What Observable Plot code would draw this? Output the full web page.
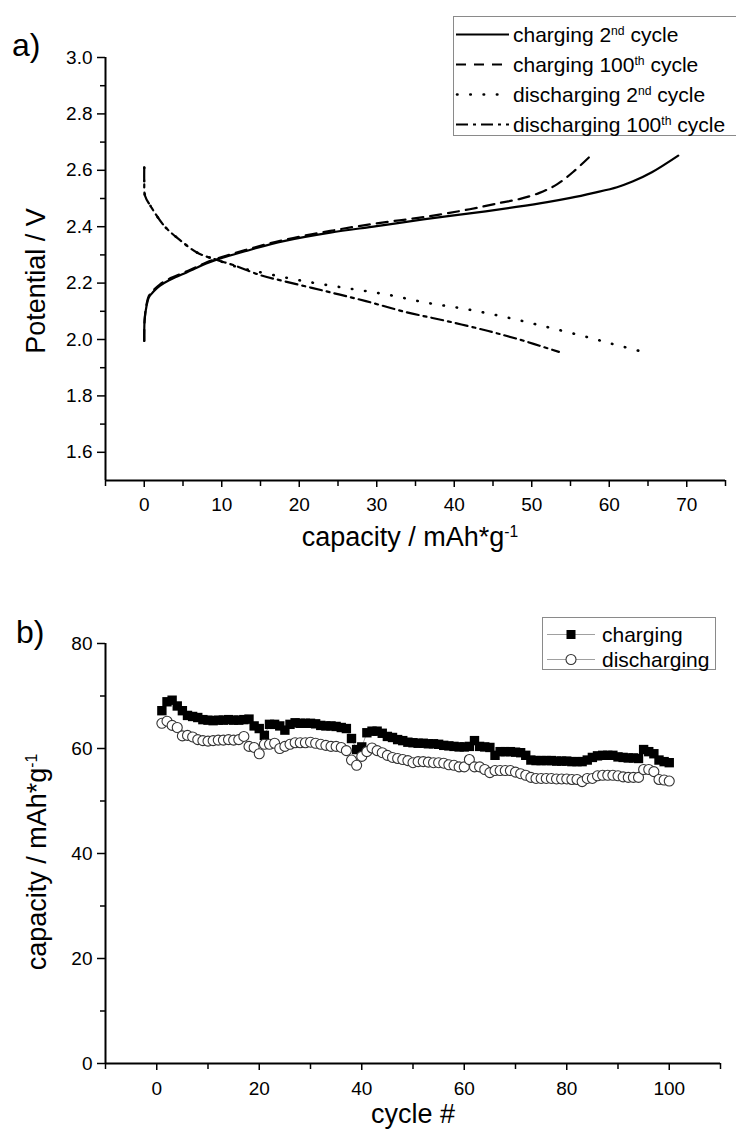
<!DOCTYPE html>
<html><head><meta charset="utf-8">
<script src="https://cdn.jsdelivr.net/npm/d3@7"></script>
<script src="https://cdn.jsdelivr.net/npm/@observablehq/plot@0.6"></script>
<style>
body{margin:0;background:#fff;}
#fig{position:relative;width:736px;height:1129px;overflow:hidden;font-family:"Liberation Sans",Arial,sans-serif;color:#000;background:#fff;}
.abs{position:absolute;white-space:nowrap;line-height:1;}
.panel{position:absolute;left:0;}
.leg{position:absolute;border:1px solid #8a8a8a;background:#fff;box-sizing:border-box;}
.row{position:absolute;left:0;display:flex;align-items:center;transform:translateY(-50%);white-space:nowrap;line-height:1;}
.row svg{display:block;}
sup{font-size:0.58em;vertical-align:0;position:relative;top:-0.6em;line-height:0;}
</style></head><body><div id="fig"></div>
<script>
const FONT = '"Liberation Sans", Arial, sans-serif';

// ---------- Panel a: potential vs capacity ----------
const capC2  = [0, 0.05, 0.3, 0.6, 1.2, 2, 3.2, 5, 6.3, 8, 10, 13, 18, 24, 30, 36, 42, 48, 52, 55, 58, 61, 63, 65.5, 68.9];
const vC2    = [1.995, 2.07, 2.12, 2.15, 2.17, 2.19, 2.21, 2.232, 2.248, 2.27, 2.289, 2.313, 2.349, 2.379, 2.402, 2.426, 2.447, 2.47, 2.487, 2.502, 2.52, 2.54, 2.56, 2.593, 2.652];
const capC100 = [0, 0.05, 0.3, 0.6, 1.2, 2, 3.2, 5, 6.3, 8, 10, 13, 18, 24, 30, 36, 42, 46, 48.4, 51, 53.3, 55.5, 57.6];
const vC100   = [1.995, 2.07, 2.125, 2.155, 2.175, 2.195, 2.215, 2.236, 2.252, 2.273, 2.292, 2.317, 2.353, 2.385, 2.412, 2.434, 2.462, 2.485, 2.498, 2.52, 2.551, 2.598, 2.652];
const capD2  = [0, 0, 0.1, 0.8, 2.6, 4.5, 6.9, 9.3, 12, 15.4, 20.6, 25.9, 31.2, 36.5, 41.7, 47, 52.3, 57.5, 61, 64.4];
const vD2    = [2.61, 2.56, 2.51, 2.474, 2.402, 2.355, 2.307, 2.283, 2.257, 2.236, 2.207, 2.183, 2.160, 2.130, 2.107, 2.077, 2.042, 2.006, 1.98, 1.956];
const capD100 = [0, 0, 0.1, 0.8, 2.6, 4.5, 6.9, 9.3, 11.7, 15, 18, 23.3, 28.6, 33.8, 39.1, 44.4, 48.4, 51, 53.5];
const vD100   = [2.61, 2.56, 2.51, 2.474, 2.402, 2.355, 2.307, 2.283, 2.262, 2.228, 2.207, 2.172, 2.136, 2.097, 2.065, 2.030, 2.0, 1.978, 1.956];

const xTicksA = [0, 10, 20, 30, 40, 50, 60, 70];
const xMinorA = [-5, 5, 15, 25, 35, 45, 55, 65, 75];
const yTicksA = [1.6, 1.8, 2.0, 2.2, 2.4, 2.6, 2.8, 3.0];
const yMinorA = [1.7, 1.9, 2.1, 2.3, 2.5, 2.7, 2.9];

// ---------- Panel b: capacity vs cycle ----------
const cycles = [1,2,3,4,5,6,7,8,9,10,11,12,13,14,15,16,17,18,19,20,21,22,23,24,25,26,27,28,29,30,31,32,33,34,35,36,37,38,39,40,41,42,43,44,45,46,47,48,49,50,51,52,53,54,55,56,57,58,59,60,61,62,63,64,65,66,67,68,69,70,71,72,73,74,75,76,77,78,79,80,81,82,83,84,85,86,87,88,89,90,91,92,93,94,95,96,97,98,99,100];
const charging = [67.2,68.9,69.2,68.1,67.2,66.3,66.1,65.9,65.5,65.4,65.3,65.4,65.4,65.5,65.4,65.4,65.5,65.6,64.3,63.8,
  62.5,64.6,64.6,64.3,63.5,64.6,64.9,64.8,64.8,64.8,64.7,64.4,64.3,64.3,64.2,64.0,63.8,61.9,59.8,60.3,
  63.0,63.3,63.3,62.9,62.3,62.1,61.7,61.5,61.2,61.1,61.0,61.0,60.9,60.9,60.8,60.6,60.5,60.4,60.3,60.3,
  60.4,61.5,60.4,60.3,60.2,58.7,59.4,59.4,59.4,59.3,59.2,58.7,57.8,57.7,57.7,57.7,57.7,57.6,57.6,57.6,
  57.5,57.5,57.5,57.8,58.3,58.6,58.7,58.7,58.7,58.4,58.3,58.2,58.2,58.1,59.8,59.4,59.0,57.8,57.5,57.3];
const discharging = [64.8,65.2,64.4,64.0,62.4,62.5,62.2,61.7,61.5,61.4,61.5,61.6,61.6,61.7,61.6,61.7,62.3,60.4,60.2,59.0,
  60.8,60.8,61.0,60.0,60.4,60.8,61.1,61.1,61.1,61.2,61.0,60.8,60.6,60.4,60.4,60.2,59.6,57.8,56.8,58.5,
  59.4,60.1,59.6,59.2,58.7,58.3,58.1,57.9,57.7,57.3,57.5,57.5,57.4,57.3,57.3,57.2,56.9,56.8,56.5,56.5,
  57.9,56.5,56.5,56.0,55.4,55.8,55.8,55.8,55.8,55.5,55.2,54.9,54.5,54.3,54.3,54.3,54.3,54.2,54.2,54.2,
  54.1,54.1,53.7,54.3,54.3,54.8,54.9,54.9,54.9,54.8,54.6,54.5,54.5,54.5,56.0,56.0,55.6,54.1,54.0,53.8];

const xTicksB = [0, 20, 40, 60, 80, 100];
const xMinorB = [-10, 10, 30, 50, 70, 90, 110];
const yTicksB = [0, 20, 40, 60, 80];
const yMinorB = [10, 30, 50, 70];

// ---------- build tables ----------
const zip = (xs, ys) => xs.map((x, i) => ({x, y: ys[i]}));
const c2 = zip(capC2, vC2), c100 = zip(capC100, vC100), d2 = zip(capD2, vD2), d100 = zip(capD100, vD100);
const cyc = cycles.map((c, i) => ({cycle: c, charge: charging[i], discharge: discharging[i]}));

const fig = document.getElementById("fig");
const style = {fontFamily: FONT, fontSize: "19px", color: "#000", background: "transparent", overflow: "visible"};
const DASH = "11,7", DOT = "0.5,12.8", DASHDOT = "12,5,3,5";

const plotA = Plot.plot({
  width: 736, height: 575,
  marginLeft: 105, marginRight: 11, marginTop: 57, marginBottom: 95,
  x: {domain: [-5, 75]},
  y: {domain: [1.5, 3.0]},
  style,
  marks: [
    Plot.axisX({ticks: xTicksA, tickSize: 7, tickPadding: 10, tickFormat: d => String(d), label: null, strokeWidth: 1.5, fontSize: 19}),
    Plot.axisX({ticks: xMinorA, tickSize: 6, tickFormat: () => "", label: null, strokeWidth: 1.5}),
    Plot.axisY({ticks: yTicksA, tickSize: 8, tickPadding: 5, tickFormat: d => d.toFixed(1), label: null, strokeWidth: 1.5, fontSize: 19}),
    Plot.axisY({ticks: yMinorA, tickSize: 5, tickFormat: () => "", label: null, strokeWidth: 1.5}),
    Plot.ruleY([1.5], {strokeWidth: 2}),
    Plot.ruleX([{x: -5, y1: 1.5, y2: 3.0}], {x: "x", y1: "y1", y2: "y2", strokeWidth: 2}),
    Plot.line(d2, {x: "x", y: "y", curve: "catmull-rom", stroke: "#000", strokeWidth: 2.6, strokeDasharray: DOT, strokeLinecap: "round"}),
    Plot.line(d100, {x: "x", y: "y", curve: "catmull-rom", stroke: "#000", strokeWidth: 2.2, strokeDasharray: DASHDOT}),
    Plot.line(c100, {x: "x", y: "y", curve: "catmull-rom", stroke: "#000", strokeWidth: 2.2, strokeDasharray: DASH}),
    Plot.line(c2, {x: "x", y: "y", curve: "catmull-rom", stroke: "#000", strokeWidth: 2.2})
  ]
});
plotA.classList.add("panel");
plotA.style.top = "0px";
fig.appendChild(plotA);

const plotB = Plot.plot({
  width: 736, height: 539,
  marginLeft: 105, marginRight: 16, marginTop: 53, marginBottom: 66,
  x: {domain: [-10, 110]},
  y: {domain: [0, 80]},
  style,
  marks: [
    Plot.axisX({ticks: xTicksB, tickSize: 7, tickPadding: 11, tickFormat: d => String(d), label: null, strokeWidth: 1.5, fontSize: 19}),
    Plot.axisX({ticks: xMinorB, tickSize: 6, tickFormat: () => "", label: null, strokeWidth: 1.5}),
    Plot.axisY({ticks: yTicksB, tickSize: 8, tickPadding: 5, tickFormat: d => String(d), label: null, strokeWidth: 1.5, fontSize: 19}),
    Plot.axisY({ticks: yMinorB, tickSize: 5, tickFormat: () => "", label: null, strokeWidth: 1.5}),
    Plot.ruleY([0], {strokeWidth: 2}),
    Plot.ruleX([{x: -10, y1: 0, y2: 80}], {x: "x", y1: "y1", y2: "y2", strokeWidth: 2}),
    Plot.line(cyc, {x: "cycle", y: "charge", stroke: "#888", strokeWidth: 0.8}),
    Plot.line(cyc, {x: "cycle", y: "discharge", stroke: "#888", strokeWidth: 0.8}),
    Plot.dot(cyc, {x: "cycle", y: "charge", symbol: "square", r: 5.3, fill: "#000", stroke: "none"}),
    Plot.dot(cyc, {x: "cycle", y: "discharge", symbol: "circle", r: 5, fill: "#fff", stroke: "#333", strokeWidth: 1.1})
  ]
});
plotB.classList.add("panel");
plotB.style.top = "590px";
fig.appendChild(plotB);

// ---------- text overlays ----------
function addText(html, css) {
  const d = document.createElement("div");
  d.className = "abs";
  d.innerHTML = html;
  Object.assign(d.style, css);
  fig.appendChild(d);
  return d;
}
addText("a)", {left: "12px", top: "29px", fontSize: "32px"});
addText("b)", {left: "16px", top: "616px", fontSize: "32px"});
addText("capacity / mAh*g<sup>-1</sup>", {left: "410px", top: "524px", fontSize: "27px", transform: "translateX(-50%)"});
addText("Potential / V", {left: "36px", top: "281px", fontSize: "27px", transform: "translate(-50%,-50%) rotate(-90deg)"});
addText("cycle #", {left: "413px", top: "1101px", fontSize: "27px", transform: "translateX(-50%)"});
addText("capacity / mAh*g<sup>-1</sup>", {left: "37px", top: "862px", fontSize: "27px", transform: "translate(-50%,-50%) rotate(-90deg)"});

// ---------- legends ----------
function legend(box, rows) {
  const L = document.createElement("div");
  L.className = "leg";
  Object.assign(L.style, {left: box.left + "px", top: box.top + "px", width: box.width + "px", height: box.height + "px"});
  rows.forEach(r => {
    const row = document.createElement("div");
    row.className = "row";
    row.style.top = r.y + "px";
    row.style.left = box.sampleLeft + "px";
    row.style.fontSize = box.fontSize + "px";
    row.innerHTML = `<svg width="${box.sampleW}" height="14">${r.svg}</svg><span style="margin-left:${box.gap}px">${r.label}</span>`;
    L.appendChild(row);
  });
  fig.appendChild(L);
}
legend({left: 453, top: 16, width: 286, height: 120, sampleLeft: 1, sampleW: 54, gap: 4, fontSize: 21}, [
  {y: 17, label: "charging 2<sup>nd</sup> cycle", svg: `<line x1="1" x2="54" y1="7" y2="7" stroke="#000" stroke-width="2.2"/>`},
  {y: 47, label: "charging 100<sup>th</sup> cycle", svg: `<line x1="1" x2="54" y1="7" y2="7" stroke="#000" stroke-width="2.2" stroke-dasharray="10,8"/>`},
  {y: 77, label: "discharging 2<sup>nd</sup> cycle", svg: `<line x1="2" x2="54" y1="7" y2="7" stroke="#000" stroke-width="2.6" stroke-linecap="round" stroke-dasharray="${DOT}"/>`},
  {y: 107, label: "discharging 100<sup>th</sup> cycle", svg: `<line x1="1" x2="54" y1="7" y2="7" stroke="#000" stroke-width="2.2" stroke-dasharray="${DASHDOT}"/>`}
]);
legend({left: 542, top: 617, width: 174, height: 53, sampleLeft: 4, sampleW: 48, gap: 7, fontSize: 21}, [
  {y: 16, label: "charging", svg: `<line x1="0" x2="48" y1="7" y2="7" stroke="#888" stroke-width="0.8"/><rect x="19.5" y="2.5" width="9" height="9" fill="#000"/>`},
  {y: 41, label: "discharging", svg: `<line x1="0" x2="48" y1="7" y2="7" stroke="#888" stroke-width="0.8"/><circle cx="24" cy="7" r="5" fill="#fff" stroke="#333" stroke-width="1.1"/>`}
]);
</script></body></html>
